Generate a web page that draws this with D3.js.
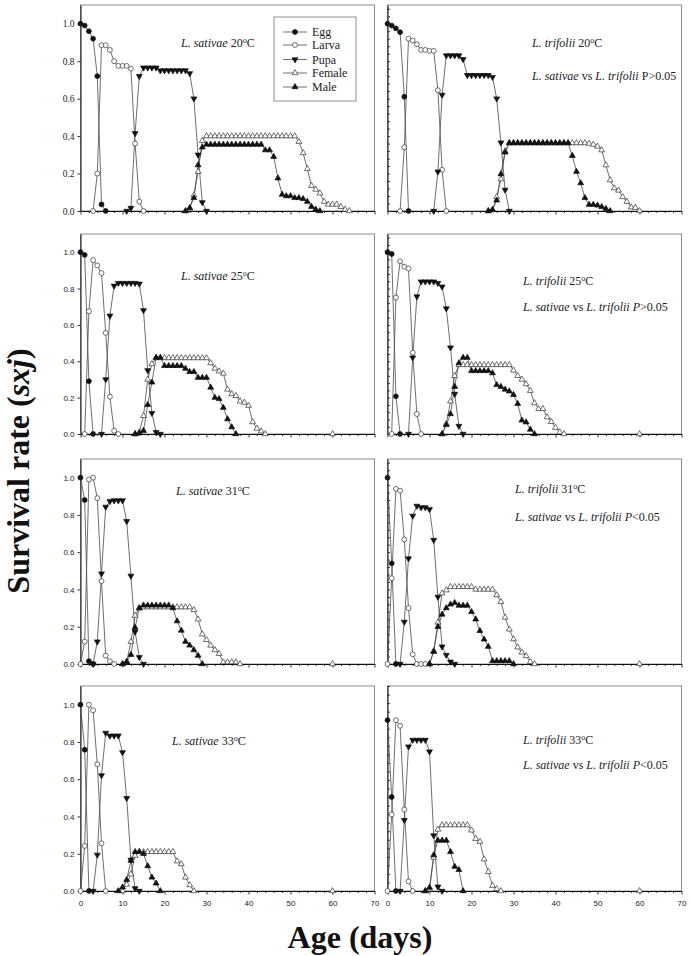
<!DOCTYPE html>
<html><head><meta charset="utf-8">
<script src="https://cdn.jsdelivr.net/npm/d3@7"></script>
<style>body{margin:0;background:#fff}svg{display:block}</style>
</head><body><svg id="c" width="691" height="956"></svg>
<script>
// ---------- DATA ----------
const stages = ["Egg", "Larva", "Pupa", "Female", "Male"];
const xTicks = [0, 10, 20, 30, 40, 50, 60, 70];
const yTicks = [0, 0.2, 0.4, 0.6, 0.8, 1.0];
const panelSpecies = ["L. sativae", "L. trifolii", "L. sativae", "L. trifolii", "L. sativae", "L. trifolii", "L. sativae", "L. trifolii"];
const panelTemps = ["20", "20", "25", "25", "31", "31", "33", "33"];
const panelStats = [null, "P>0.05", null, "P>0.05", null, "P<0.05", null, "P<0.05"];
const statItalicP = [false, false, false, true, false, true, false, true];
const panelYMax = [1.1, 1.1, 1.1, 1.1, 1.1, 1.1, 1.1, 1.2];
const lateFemaleDay = [null, null, 60, 60, 60, 60, 60, 60];

// start day of each stage series (Egg, Larva, Pupa, Female, Male)
const sat20Start = [0, 3, 11, 25, 25];
const sat20 = [
  [1.0, 0.99, 0.96, 0.92, 0.72, 0.035, 0],
  [0, 0.2, 0.885, 0.885, 0.86, 0.80, 0.775, 0.775, 0.775, 0.76, 0.36, 0.05, 0],
  [0, 0.016, 0.415, 0.72, 0.765, 0.765, 0.765, 0.765, 0.75, 0.75, 0.75, 0.75, 0.75, 0.75, 0.75, 0.735, 0.6, 0.3, 0.046, 0],
  [0, 0.015, 0.085, 0.21, 0.375, 0.40, 0.40, 0.40, 0.40, 0.40, 0.40, 0.40, 0.40, 0.40, 0.40, 0.40, 0.40, 0.40, 0.40, 0.40, 0.40, 0.40, 0.40, 0.40, 0.40, 0.40, 0.40, 0.37, 0.31, 0.225, 0.135, 0.115, 0.095, 0.05, 0.035, 0.035, 0.035, 0.022, 0.008, 0],
  [0, 0.016, 0.07, 0.245, 0.34, 0.355, 0.355, 0.355, 0.355, 0.355, 0.355, 0.355, 0.355, 0.355, 0.355, 0.355, 0.355, 0.355, 0.355, 0.325, 0.325, 0.29, 0.175, 0.088, 0.08, 0.08, 0.07, 0.07, 0.065, 0.05, 0.023, 0.009, 0]
];
const tri20Start = [0, 3, 11, 24, 24];
const tri20 = [
  [1.0, 0.99, 0.975, 0.955, 0.61, 0],
  [0, 0.34, 0.92, 0.91, 0.89, 0.86, 0.86, 0.855, 0.855, 0.645, 0.22, 0],
  [0, 0.21, 0.62, 0.83, 0.83, 0.83, 0.83, 0.81, 0.725, 0.725, 0.725, 0.725, 0.725, 0.725, 0.715, 0.6, 0.365, 0.113, 0],
  [0, 0.005, 0.075, 0.17, 0.32, 0.363, 0.363, 0.363, 0.363, 0.363, 0.363, 0.363, 0.363, 0.363, 0.363, 0.363, 0.363, 0.363, 0.363, 0.363, 0.363, 0.363, 0.363, 0.363, 0.36, 0.355, 0.345, 0.325, 0.245, 0.165, 0.122, 0.11, 0.075, 0.05, 0.02, 0.018, 0],
  [0, 0.007, 0.057, 0.197, 0.313, 0.363, 0.363, 0.363, 0.363, 0.363, 0.363, 0.363, 0.363, 0.363, 0.363, 0.363, 0.363, 0.363, 0.363, 0.363, 0.295, 0.21, 0.149, 0.07, 0.034, 0.034, 0.03, 0.022, 0.012, 0]
];
const sat25Start = [0, 1, 5, 13, 13];
const sat25 = [
  [1.0, 0.985, 0.29, 0],
  [0, 0.675, 0.956, 0.927, 0.885, 0.556, 0.205, 0.018, 0],
  [0, 0.3, 0.65, 0.815, 0.83, 0.83, 0.83, 0.83, 0.83, 0.826, 0.68, 0.35, 0.115, 0.01, 0],
  [0, 0.01, 0.1, 0.3, 0.385, 0.418, 0.418, 0.418, 0.418, 0.418, 0.418, 0.418, 0.418, 0.418, 0.418, 0.418, 0.418, 0.418, 0.39, 0.36, 0.345, 0.333, 0.245, 0.22, 0.21, 0.18, 0.173, 0.156, 0.066, 0.03, 0.015, 0],
  [0, 0.005, 0.018, 0.16, 0.284, 0.42, 0.42, 0.375, 0.375, 0.375, 0.375, 0.375, 0.36, 0.342, 0.342, 0.31, 0.31, 0.31, 0.256, 0.2, 0.193, 0.145, 0.082, 0.038, 0]
];
const tri25Start = [0, 1, 5, 13, 13];
const tri25 = [
  [1.0, 0.99, 0.207, 0],
  [0, 0.75, 0.95, 0.92, 0.91, 0.447, 0.11, 0],
  [0, 0.42, 0.756, 0.838, 0.838, 0.838, 0.838, 0.83, 0.81, 0.69, 0.475, 0.22, 0.044, 0],
  [0, 0.056, 0.18, 0.32, 0.38, 0.38, 0.38, 0.38, 0.38, 0.38, 0.38, 0.38, 0.38, 0.38, 0.38, 0.38, 0.38, 0.35, 0.32, 0.3, 0.275, 0.238, 0.17, 0.138, 0.138, 0.093, 0.067, 0.035, 0.01, 0],
  [0, 0.05, 0.11, 0.26, 0.39, 0.42, 0.42, 0.347, 0.347, 0.347, 0.347, 0.347, 0.335, 0.27, 0.26, 0.245, 0.235, 0.216, 0.166, 0.075, 0.065, 0.025, 0]
];
const sat31Start = [0, 0, 3, 10, 10];
const sat31 = [
  [1.0, 0.88, 0.015, 0],
  [0, 0.12, 0.99, 1.0, 0.89, 0.445, 0.045, 0.015, 0],
  [0, 0.12, 0.485, 0.843, 0.873, 0.877, 0.877, 0.877, 0.766, 0.473, 0.173, 0.036, 0],
  [0, 0.012, 0.12, 0.26, 0.3, 0.305, 0.305, 0.305, 0.305, 0.305, 0.305, 0.305, 0.305, 0.305, 0.305, 0.305, 0.305, 0.29, 0.24, 0.16, 0.13, 0.1, 0.075, 0.055, 0.01, 0.01, 0.01, 0.01, 0],
  [0, 0.012, 0.05, 0.195, 0.3, 0.315, 0.315, 0.315, 0.315, 0.315, 0.315, 0.315, 0.3, 0.23, 0.18, 0.12, 0.1, 0.075, 0.045, 0]
];
const tri31Start = [0, 0, 3, 10, 10];
const tri31 = [
  [1.0, 0.54, 0],
  [0, 0.46, 0.94, 0.93, 0.668, 0.3, 0.052, 0, 0, 0],
  [0, 0.226, 0.566, 0.795, 0.848, 0.84, 0.84, 0.83, 0.665, 0.36, 0.093, 0.048, 0.012, 0],
  [0, 0.07, 0.223, 0.38, 0.396, 0.414, 0.414, 0.414, 0.414, 0.414, 0.414, 0.4, 0.4, 0.4, 0.4, 0.4, 0.37, 0.334, 0.25, 0.186, 0.134, 0.09, 0.062, 0.043, 0.012, 0],
  [0, 0.066, 0.2, 0.266, 0.3, 0.32, 0.328, 0.314, 0.314, 0.314, 0.28, 0.24, 0.178, 0.132, 0.093, 0.016, 0.016, 0.016, 0.016, 0.016, 0]
];
const sat33Start = [0, 0, 3, 10, 9];
const sat33 = [
  [1.0, 0.758, 0],
  [0, 0.242, 1.0, 0.97, 0.68, 0.256, 0],
  [0, 0.194, 0.62, 0.848, 0.833, 0.833, 0.833, 0.744, 0.498, 0.167, 0.014, 0],
  [0, 0.035, 0.09, 0.19, 0.21, 0.21, 0.21, 0.21, 0.21, 0.21, 0.21, 0.21, 0.21, 0.16, 0.145, 0.073, 0.032, 0],
  [0, 0.02, 0.06, 0.163, 0.21, 0.21, 0.2, 0.134, 0.073, 0.041, 0]
];
const tri33Start = [0, 0, 3, 9, 9];
const tri33 = [
  [1.0, 0.55, 0],
  [0, 0.448, 1.0, 0.967, 0.477, 0.056, 0],
  [0, 0.415, 0.845, 0.884, 0.884, 0.884, 0.884, 0.816, 0.325, 0.025, 0],
  [0, 0.01, 0.196, 0.36, 0.386, 0.386, 0.386, 0.386, 0.386, 0.386, 0.386, 0.355, 0.306, 0.289, 0.186, 0.112, 0.031, 0.012, 0],
  [0, 0.02, 0.21, 0.296, 0.296, 0.296, 0.229, 0.143, 0.124, 0]
];
const panelData = [sat20, tri20, sat25, tri25, sat31, tri31, sat33, tri33];
const panelStarts = [sat20Start, tri20Start, sat25Start, tri25Start, sat31Start, tri31Start, sat33Start, tri33Start];

// ---------- LAYOUT ----------
const colX = [[80.5, 374.5], [387.5, 681.5]];
const rowY = [[5, 211], [234, 434], [459, 664], [686, 891]];
const titlePos = [[181, 47], [532, 47], [181, 280], [523, 285], [176, 495], [515, 493], [172, 745], [523, 744]];
const statPos = [null, [532, 80], null, [523, 311], null, [515, 521], null, [523, 769]];

const svg = d3.select("#c");
const SERIF = "'Liberation Serif','Times New Roman',serif";
const SANS = "'Liberation Sans',Arial,sans-serif";

const symTypes = [d3.symbolCircle, d3.symbolCircle, d3.symbolTriangle, d3.symbolTriangle, d3.symbolTriangle];
const symSizes = [19, 19, 15, 15, 15];
const symFilled = [true, false, true, false, true];
const symRot = [0, 0, 180, 0, 0];

function drawMarker(g, stage, x, y) {
  g.append("path")
    .attr("d", d3.symbol().type(symTypes[stage]).size(symSizes[stage])())
    .attr("transform", `translate(${x},${y}) rotate(${symRot[stage]})`)
    .attr("fill", symFilled[stage] ? "#111" : "#fff")
    .attr("stroke", symFilled[stage] ? "#111" : "#333")
    .attr("stroke-width", 0.7);
}

panelData.forEach((series, p) => {
  const col = p % 2, row = Math.floor(p / 2);
  const [x0, x1] = colX[col];
  const [yTop, yBot] = rowY[row];
  const ymax = panelYMax[p];
  const x = d3.scaleLinear().domain([0, 70]).range([x0, x1]);
  const y = d3.scaleLinear().domain([0, ymax]).range([yBot, yTop]);
  const g = svg.append("g");

  g.append("rect").attr("x", x0).attr("y", yTop).attr("width", x1 - x0).attr("height", yBot - yTop)
    .attr("fill", "none").attr("stroke", "#8c8c8c").attr("stroke-width", 1);

  const topLeft = (p === 0);
  const tickFont = topLeft ? SERIF : SANS;
  const tickSize = topLeft ? 9.5 : 8;

  // x axis: minor ticks every 2 days
  const minorX = d3.range(0, 71, 2).filter(v => v % 10 !== 0);
  g.append("g").attr("transform", `translate(0,${yBot})`)
    .call(d3.axisBottom(x).tickValues(minorX).tickSize(2).tickSizeOuter(0).tickFormat(""))
    .call(a => a.select(".domain").remove());
  const xa = g.append("g").attr("transform", `translate(0,${yBot})`)
    .call(d3.axisBottom(x).tickValues(xTicks).tickSize(3.5).tickSizeOuter(0)
      .tickFormat(row === 3 ? d3.format("d") : ""));
  xa.selectAll("text").attr("font-family", SANS).attr("font-size", 8).attr("fill", "#222").attr("dy", "1.05em");

  // y axis
  if (col === 0) {
    const ya = g.append("g").attr("transform", `translate(${x0},0)`)
      .call(d3.axisLeft(y).tickValues(yTicks).tickSize(3).tickSizeOuter(0).tickFormat(d3.format(".1f")));
    ya.selectAll("text").attr("font-family", tickFont).attr("font-size", tickSize).attr("fill", "#222").attr("x", -6);
  } else {
    const step = ymax > 1.15 ? 0.05 : 0.04;
    const minorY = d3.range(0, ymax + 1e-9, step);
    g.append("g").attr("transform", `translate(${x0},0)`)
      .call(d3.axisLeft(y).tickValues(minorY).tickSize(-2.5).tickSizeOuter(0).tickFormat(""));
  }
  g.selectAll(".domain").attr("stroke", "#111");
  g.selectAll(".tick line").attr("stroke", "#333");

  // series lines
  series.forEach((vals, s) => {
    const start = panelStarts[p][s];
    const pts = vals.map((v, i) => [start + i, v]);
    g.append("path").datum(pts)
      .attr("d", d3.line().x(d => x(d[0])).y(d => y(d[1])))
      .attr("fill", "none").attr("stroke", "#4a4a4a").attr("stroke-width", 0.8);
  });
  series.forEach((vals, s) => {
    const start = panelStarts[p][s];
    vals.forEach((v, i) => drawMarker(g, s, x(start + i), y(v)));
  });
  if (lateFemaleDay[p] !== null) drawMarker(g, 3, x(lateFemaleDay[p]), y(0));

  // labels
  const [tx, ty] = titlePos[p];
  const t = g.append("text").attr("x", tx).attr("y", ty).attr("font-family", SERIF).attr("font-size", 12).attr("fill", "#222");
  t.append("tspan").attr("font-style", "italic").text(panelSpecies[p]);
  t.append("tspan").text(" " + panelTemps[p]);
  t.append("tspan").attr("dy", -4.5).attr("font-size", 8).text("o");
  t.append("tspan").attr("dy", 4.5).text("C");

  if (panelStats[p]) {
    const [sx, sy] = statPos[p];
    const st = g.append("text").attr("x", sx).attr("y", sy).attr("font-family", SERIF).attr("font-size", 12).attr("fill", "#222");
    st.append("tspan").attr("font-style", "italic").text("L. sativae");
    st.append("tspan").text(" vs ");
    st.append("tspan").attr("font-style", "italic").text("L. trifolii");
    st.append("tspan").text(" ");
    st.append("tspan").attr("font-style", statItalicP[p] ? "italic" : "normal").text(panelStats[p][0]);
    st.append("tspan").text(panelStats[p].slice(1));
  }

  // legend in first panel
  if (p === 0) {
    const lg = g.append("g");
    lg.append("rect").attr("x", 274).attr("y", 17).attr("width", 82).attr("height", 84)
      .attr("fill", "#fff").attr("stroke", "#777").attr("stroke-width", 0.8);
    const ly = [32, 45, 59.5, 73, 87];
    stages.forEach((name, s) => {
      lg.append("line").attr("x1", 283).attr("x2", 307).attr("y1", ly[s]).attr("y2", ly[s])
        .attr("stroke", "#4a4a4a").attr("stroke-width", 0.8);
      drawMarker(lg, s, 295, ly[s]);
      lg.append("text").attr("x", 312).attr("y", ly[s]).attr("dy", "0.35em")
        .attr("font-family", SERIF).attr("font-size", 12).attr("fill", "#222").text(name);
    });
  }
});

// axis titles
const yt = svg.append("text").attr("transform", "translate(29,471) rotate(-90)")
  .attr("text-anchor", "middle").attr("font-family", SERIF).attr("font-weight", "bold")
  .attr("font-size", 32).attr("fill", "#111");
yt.append("tspan").text("Survival rate (");
yt.append("tspan").attr("font-style", "italic").text("sxj");
yt.append("tspan").text(")");
svg.append("text").attr("x", 360).attr("y", 948).attr("text-anchor", "middle")
  .attr("font-family", SERIF).attr("font-weight", "bold").attr("font-size", 32).attr("fill", "#111")
  .text("Age (days)");
</script></body></html>
